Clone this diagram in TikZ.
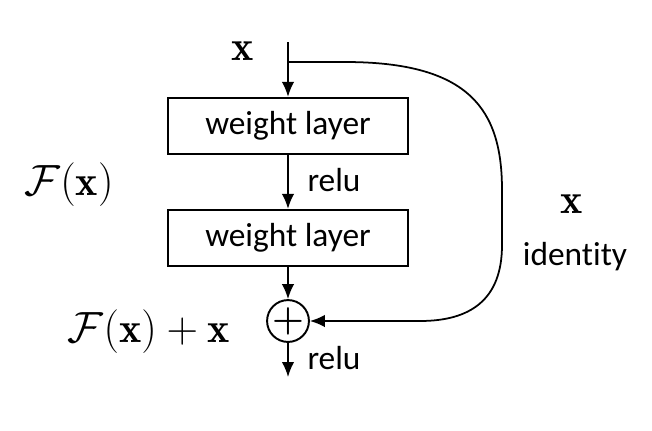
\documentclass[tikz,border=0pt]{standalone}
\usepackage{fontspec}
\usepackage{amsmath}
\usetikzlibrary{arrows.meta,positioning,calc}
\newfontfamily\labelfont[Ligatures={NoCommon}]{Carlito}
\tikzset{
  layerbox/.style={draw, line width=1.3pt, minimum width=4.8cm, minimum height=1.12cm, inner sep=2pt, font=\labelfont\fontsize{19}{22}\selectfont},
  plusnode/.style={draw, circle, line width=1.1pt, minimum size=0.7cm, inner sep=0pt, font=\fontsize{21}{21}\selectfont},
  flow/.style={-{Latex[length=3mm,width=2.5mm]}, line width=1pt},
  sidetext/.style={font=\labelfont\fontsize{19}{22}\selectfont},
  mathtext/.style={font=\fontsize{24}{28}\selectfont}
}
\begin{document}
\begin{tikzpicture}[x=0.02cm,y=-0.02cm]
\useasboundingbox (0,0) rectangle (652,430);
\coordinate (input) at (288,42);
\coordinate (split) at (288,62);
\coordinate (output) at (288,377);
\node[layerbox] (layer1) at (288,126) {weight layer};
\node[layerbox] (layer2) at (288,238) {weight layer};
\node[plusnode] (plus) at (288,321) {$\boldsymbol{+}$};
\node[mathtext] (xin) at (243,51) {$\mathbf{x}$};
\node[mathtext] (fx) at (69,185) {$\mathcal{F}(\mathbf{x})$};
\node[mathtext] (fxsum) at (149,332) {$\mathcal{F}(\mathbf{x})+\mathbf{x}$};
\node[sidetext] (relu1) at (334,180) {relu};
\node[sidetext] (relu2) at (334,358) {relu};
\node[mathtext] (xid) at (572,204) {$\mathbf{x}$};
\node[sidetext] (identity) at (575,257) {identity};
\draw[line width=1pt] (input) -- (split);
\draw[flow] (split) -- (layer1);
\draw[flow] (layer1) -- (layer2);
\draw[flow] (layer2) -- (plus);
\draw[flow] (plus) -- (output);
% shortcut
\draw[flow] (split) -- (345,62) .. controls (470,62) and (502,110) .. (502,190)
  -- (502,245) .. controls (502,300) and (470,321) .. (420,321) -- (plus.east);
\end{tikzpicture}
\end{document}
